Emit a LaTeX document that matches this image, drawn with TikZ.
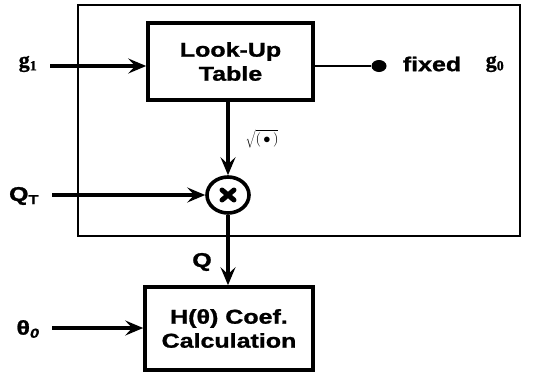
\documentclass[tikz,border=0pt]{standalone}
\usepackage{fontspec}
\setmainfont{Liberation Sans}
\newfontfamily\widesf[FakeStretch=1.25,FakeBold=1.2]{Liberation Sans}
\newfontfamily\serifb[FakeBold=1]{Liberation Serif}
\usetikzlibrary{arrows.meta,shapes.geometric}
\begin{document}
\begin{tikzpicture}[x=1pt,y=-1pt,
  blk/.style={draw,line width=3.6pt,align=center,inner sep=0pt,
    font=\widesf\bfseries\fontsize{20}{26}\selectfont},
  lbl/.style={inner sep=0pt,font=\widesf\bfseries\fontsize{20}{20}\selectfont},
  glbl/.style={inner sep=0pt,font=\serifb\bfseries\fontsize{22}{22}\selectfont},
  conn/.style={line width=3.2pt,-{Stealth[length=18pt,width=15pt,inset=7pt]}},
  multn/.style={draw,ellipse,line width=3.6pt,minimum width=42pt,minimum height=36pt,inner sep=0pt}]
\useasboundingbox (0,0) rectangle (548,372);
\node[draw,line width=2.4pt,minimum width=442pt,minimum height=231pt,inner sep=0pt] (outer) at (299,120.5) {};
\node[blk,minimum width=165pt,minimum height=77pt] (lut) at (230.5,61.5) {Look-Up\\[-2pt]Table};
\node[multn] (mul) at (228,195) {};
\draw[line width=5pt,line cap=round] ([xshift=-6pt,yshift=-5pt]mul.center) -- ([xshift=6pt,yshift=5pt]mul.center)
  ([xshift=-6pt,yshift=5pt]mul.center) -- ([xshift=6pt,yshift=-5pt]mul.center);
\node[blk,minimum width=168pt,minimum height=83pt] (hc) at (229,328.5) {H(θ) Coef.\\[-2pt]Calculation};
% labels
\node[glbl] (g1) at (28,64) {g\textsubscript{\fontsize{14}{14}\selectfont 1}};
\coordinate (g1s) at (50,66);
\node[lbl] (qt) at (24,196) {Q\textsubscript{\fontsize{13}{13}\selectfont T}};
\coordinate (qts) at (52,195);
\node[lbl] (th) at (28,329) {θ\textsubscript{\fontsize{13}{13}\selectfont\itshape 0}};
\coordinate (ths) at (52,328);
\node[lbl] (q) at (202,262) {Q};
\node[inner sep=0pt,font=\fontsize{14}{14}\selectfont] (sq) at (262,139) {$\sqrt{(\,\bullet\,)}$};
\node[fill,ellipse,minimum width=15pt,minimum height=12pt,inner sep=0pt] (dot) at (379,66) {};
\node[lbl] (fx) at (432,64) {fixed};
\node[glbl] (g0) at (495,64) {g\textsubscript{\fontsize{14}{14}\selectfont 0}};
% connectors
\draw[conn] (g1s) -- (lut.west |- g1s);
\draw[line width=2.6pt] (lut.east |- dot) -- (dot);
\draw[conn] (lut.south -| mul.north) -- (mul.north);
\draw[conn] (qts) -- (mul.west);
\draw[conn] (mul.south) -- (hc.north -| mul.south);
\draw[conn] (ths) -- (hc.west |- ths);
\end{tikzpicture}
\end{document}
